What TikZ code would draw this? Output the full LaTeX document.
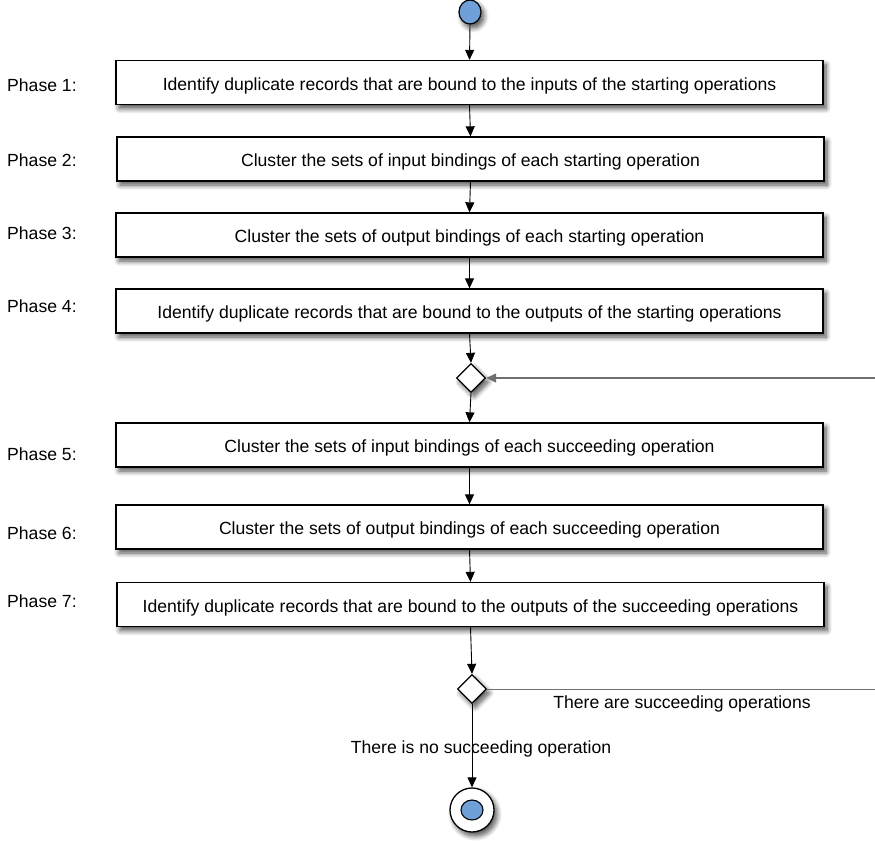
\documentclass[tikz,border=0pt]{standalone}
\usepackage{fontspec}
\setmainfont{Liberation Sans}
\usetikzlibrary{shapes.geometric,shadows,shadows.blur,arrows.meta}
\definecolor{startblue}{HTML}{6FA0D8}
\definecolor{loopgrey}{HTML}{707070}
\tikzset{
  softshadow/.style={blur shadow={shadow xshift=3pt, shadow yshift=-4pt, shadow opacity=70, shadow blur radius=5pt, shadow blur steps=8}},
  phasebox/.style={draw, line width=1.3pt, fill=white, minimum width=707pt, minimum height=44pt, inner sep=0pt, text height=15.6pt, text depth=0pt, font=\fontsize{17.6}{20}\selectfont, softshadow},
  phaselabel/.style={anchor=west, inner sep=0pt, font=\fontsize{17.6}{20}\selectfont},
  decision/.style={diamond, draw, line width=1.3pt, fill=white, minimum width=29pt, minimum height=29pt, inner sep=0pt, aspect=1, softshadow},
  flow/.style={line width=0.9pt, -{Triangle[length=10pt,width=9pt]}},
  guard/.style={inner sep=0pt, font=\fontsize{17.6}{20}\selectfont},
}
\begin{document}
\begin{tikzpicture}[x=1pt,y=-1pt]
\useasboundingbox (0,0) rectangle (875,843);
% start
\node[ellipse, draw, line width=1.2pt, fill=startblue, minimum width=22pt, minimum height=24pt, inner sep=0pt, softshadow] (start) at (470,12) {};
% boxes
\node[phasebox] (b1) at (469.5,82.5) {Identify duplicate records that are bound to the inputs of the starting operations};
\node[phasebox] (b2) at (470.5,159) {Cluster the sets of input bindings of each starting operation};
\node[phasebox] (b3) at (469.5,235) {Cluster the sets of output bindings of each starting operation};
\node[phasebox] (b4) at (469.5,311) {Identify duplicate records that are bound to the outputs of the starting operations};
\node[decision] (d1) at (471,378) {};
\node[phasebox] (b5) at (469.5,445) {Cluster the sets of input bindings of each succeeding operation};
\node[phasebox] (b6) at (469.5,527) {Cluster the sets of output bindings of each succeeding operation};
\node[phasebox] (b7) at (470.5,604.5) {Identify duplicate records that are bound to the outputs of the succeeding operations};
\node[decision] (d2) at (472,689) {};
% end
\node[circle, draw, line width=1.3pt, fill=white, minimum size=44pt, inner sep=0pt, softshadow] (end) at (472,810) {};
\node[ellipse, draw, line width=1.1pt, fill=startblue, minimum width=22pt, minimum height=20pt, inner sep=0pt] (endin) at (472,810) {};
% phase labels
\node[phaselabel] (p1) at (7,85) {Phase 1:};
\node[phaselabel] (p2) at (7,160) {Phase 2:};
\node[phaselabel] (p3) at (7,233) {Phase 3:};
\node[phaselabel] (p4) at (7,306) {Phase 4:};
\node[phaselabel] (p5) at (7,454) {Phase 5:};
\node[phaselabel] (p6) at (7,533) {Phase 6:};
\node[phaselabel] (p7) at (7,601) {Phase 7:};
% flows
\draw[flow] (start.south) -- (b1.north);
\draw[flow] (b1.south) -- (b2.north);
\draw[flow] (b2.south) -- (b3.north);
\draw[flow] (b3.south) -- (b4.north);
\draw[flow] (b4.south) -- (d1.north);
\draw[flow] (d1.south) -- (b5.north);
\draw[flow] (b5.south) -- (b6.north);
\draw[flow] (b6.south) -- (b7.north);
\draw[flow] (b7.south) -- (d2.north);
\draw[flow] (d2.south) -- (end.north);
% loop
\coordinate (loopin) at (875,378);
\coordinate (loopout) at (875,689);
\draw[flow, draw=loopgrey, fill=black, line width=1.3pt] (loopin) -- (d1.east);
\draw[line width=0.9pt, draw=loopgrey] (d2.east) -- (loopout);
% guards
\node[guard] (g1) at (682,704) {There are succeeding operations};
\node[guard] (g2) at (481,749) {There is no succeeding operation};
\end{tikzpicture}
\end{document}
